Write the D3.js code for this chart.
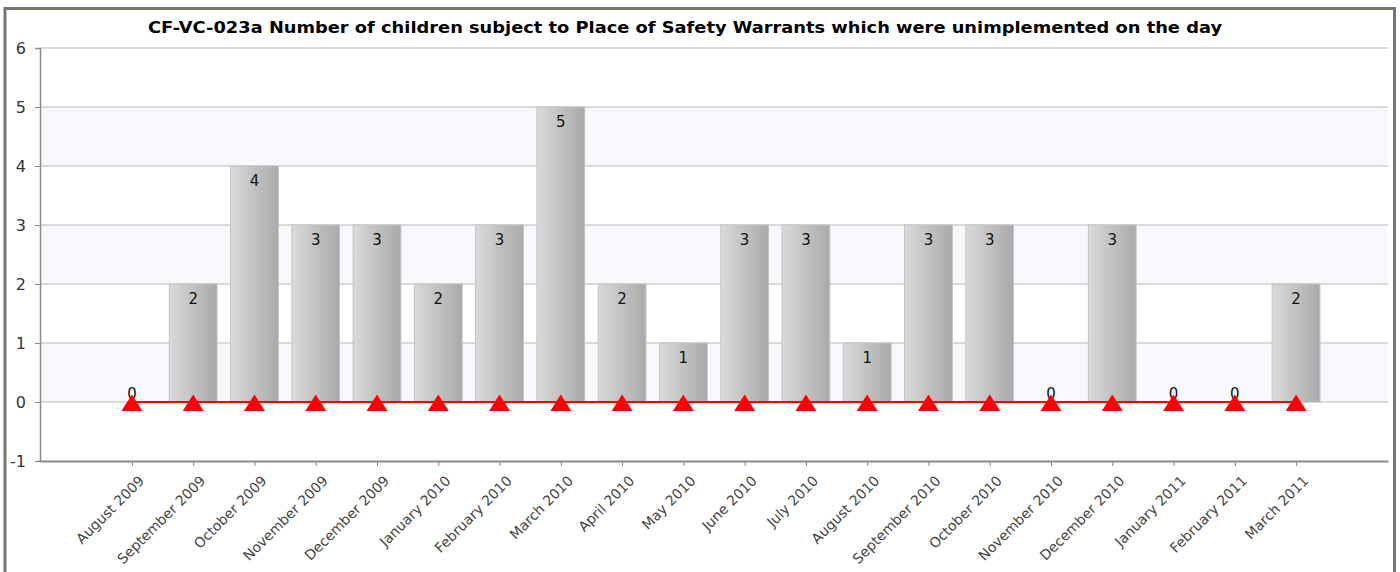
<!DOCTYPE html>
<html>
<head>
<meta charset="utf-8">
<script src="https://cdn.jsdelivr.net/npm/d3@7"></script>
<style>
  html, body { margin: 0; padding: 0; background: #fff; }
  svg { display: block; }
  text { font-family: "DejaVu Sans", Verdana, sans-serif; }
</style>
</head>
<body>
<svg id="chart" width="1400" height="572"></svg>
<script>
const months = ["August 2009", "September 2009", "October 2009", "November 2009", "December 2009",
  "January 2010", "February 2010", "March 2010", "April 2010", "May 2010", "June 2010", "July 2010",
  "August 2010", "September 2010", "October 2010", "November 2010", "December 2010",
  "January 2011", "February 2011", "March 2011"];
const children = [0, 2, 4, 3, 3, 2, 3, 5, 2, 1, 3, 3, 1, 3, 3, 0, 3, 0, 0, 2];
const target = [0, 0, 0, 0, 0, 0, 0, 0, 0, 0, 0, 0, 0, 0, 0, 0, 0, 0, 0, 0];
const yTicks = [-1, 0, 1, 2, 3, 4, 5, 6];
const title = "CF-VC-023a Number of children subject to Place of Safety Warrants which were unimplemented on the day";

const svg = d3.select("#chart");
const m = { left: 40, right: 1388, top: 48, bottom: 461 };

// outer frame
svg.append("path")
  .attr("d", `M5,580 V8.5 H1394.5 V580`)
  .attr("fill", "none").attr("stroke", "#77776b").attr("stroke-width", 3);

const x = d3.scalePoint().domain(months).range([m.left, m.right]).padding(1.5);
const y = d3.scaleLinear().domain([-1, 6]).range([m.bottom, m.top]);
const barW = x.step() * 0.78;

// alternating bands
const g = svg.append("g");
g.selectAll("rect.band").data(d3.range(-1, 6)).join("rect")
  .attr("x", m.left).attr("width", m.right - m.left)
  .attr("y", d => y(d + 1)).attr("height", d => y(d) - y(d + 1))
  .attr("fill", d => (d % 2 === 0 ? "#f7f8fe" : "#ffffff"));

// gridlines
g.selectAll("line.grid").data(yTicks.filter(t => t > -1)).join("line")
  .attr("x1", m.left).attr("x2", m.right)
  .attr("y1", d => y(d)).attr("y2", d => y(d))
  .attr("stroke", "#cfcfcf").attr("stroke-width", 1.5);

// bar gradient
const defs = svg.append("defs");
const grad = defs.append("linearGradient").attr("id", "barGrad")
  .attr("x1", "0").attr("x2", "1").attr("y1", "0").attr("y2", "0");
grad.append("stop").attr("offset", "0").attr("stop-color", "#dadada");
grad.append("stop").attr("offset", "1").attr("stop-color", "#a9a9a9");

g.selectAll("rect.bar").data(months).join("rect")
  .attr("x", (d) => x(d) - barW / 2)
  .attr("width", barW)
  .attr("y", (d, i) => y(Math.max(children[i], 0)))
  .attr("height", (d, i) => Math.abs(y(0) - y(children[i])))
  .attr("fill", "url(#barGrad)")
  .attr("stroke", "#c4c4c4").attr("stroke-width", 1);

// value labels
g.selectAll("text.val").data(months).join("text")
  .attr("x", d => x(d))
  .attr("y", (d, i) => children[i] > 0 ? y(children[i]) + 20 : y(0) - 3)
  .attr("text-anchor", "middle")
  .attr("font-size", 15).attr("fill", "#111")
  .text((d, i) => children[i]);

// target line with triangle markers
const line = d3.line().x(d => x(d.m)).y(d => y(d.v));
const pts = months.map((mm, i) => ({ m: mm, v: target[i] }));
g.append("path").datum(pts).attr("d", line)
  .attr("fill", "none").attr("stroke", "#ff0000").attr("stroke-width", 2);
g.selectAll("path.tri").data(pts).join("path")
  .attr("transform", d => `translate(${x(d.m)},${y(d.v) + 1})`)
  .attr("d", "M0,-8.5 L10.5,8 L-10.5,8 Z")
  .attr("fill", "#ff0000");

// y axis
const yAxis = svg.append("g").attr("transform", `translate(${m.left},0)`)
  .call(d3.axisLeft(y).tickValues(yTicks).tickSize(5).tickPadding(9).tickFormat(d => String(d)));
yAxis.select(".domain").attr("stroke", "#8a8a8a").attr("stroke-width", 1.5);
yAxis.selectAll(".tick line").attr("stroke", "#8a8a8a");
yAxis.selectAll(".tick text").attr("font-size", 16).attr("fill", "#333")
  .attr("font-family", "DejaVu Sans, sans-serif");

// x axis
const xAxis = svg.append("g").attr("transform", `translate(0,${m.bottom})`)
  .call(d3.axisBottom(x).tickSize(5).tickSizeOuter(0));
xAxis.select(".domain").attr("stroke", "#8a8a8a").attr("stroke-width", 2);
xAxis.selectAll(".tick line").attr("stroke", "#8a8a8a");
xAxis.selectAll(".tick text")
  .attr("font-size", 14).attr("fill", "#444")
  .attr("font-family", "DejaVu Sans, sans-serif")
  .attr("text-anchor", "end")
  .attr("dy", 0)
  .attr("transform", "translate(7,15) rotate(-45)");

// title
svg.append("text")
  .attr("x", 685).attr("y", 33)
  .attr("text-anchor", "middle")
  .attr("font-size", 16).attr("font-weight", "bold").attr("fill", "#000")
  .attr("textLength", 1074).attr("lengthAdjust", "spacingAndGlyphs")
  .text(title);
</script>
</body>
</html>
